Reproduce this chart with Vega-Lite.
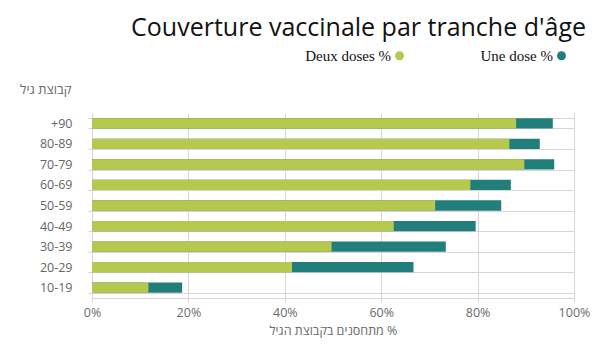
{
  "$schema": "https://vega.github.io/schema/vega-lite/v6.json",
  "width": 482,
  "height": 185,
  "autosize": "none",
  "padding": {"left": 92, "top": 113, "right": 33, "bottom": 62},
  "background": "white",
  "title": {
    "text": "Couverture vaccinale par tranche d'âge",
    "anchor": "end",
    "frame": "group",
    "font": "Open Sans",
    "fontSize": 25,
    "fontWeight": "normal",
    "color": "#111111",
    "dx": 12,
    "offset": 7
  },
  "data": {
    "values": [
      {"age": "+90", "serie": "Une dose %", "valeur": 95.6},
      {"age": "80-89", "serie": "Une dose %", "valeur": 92.9},
      {"age": "70-79", "serie": "Une dose %", "valeur": 95.9},
      {"age": "60-69", "serie": "Une dose %", "valeur": 86.9},
      {"age": "50-59", "serie": "Une dose %", "valeur": 84.9},
      {"age": "40-49", "serie": "Une dose %", "valeur": 79.6},
      {"age": "30-39", "serie": "Une dose %", "valeur": 73.4},
      {"age": "20-29", "serie": "Une dose %", "valeur": 66.7},
      {"age": "10-19", "serie": "Une dose %", "valeur": 18.7},
      {"age": "+90", "serie": "Deux doses %", "valeur": 88.0},
      {"age": "80-89", "serie": "Deux doses %", "valeur": 86.6},
      {"age": "70-79", "serie": "Deux doses %", "valeur": 89.7},
      {"age": "60-69", "serie": "Deux doses %", "valeur": 78.5},
      {"age": "50-59", "serie": "Deux doses %", "valeur": 71.2},
      {"age": "40-49", "serie": "Deux doses %", "valeur": 62.6},
      {"age": "30-39", "serie": "Deux doses %", "valeur": 49.7},
      {"age": "20-29", "serie": "Deux doses %", "valeur": 41.5},
      {"age": "10-19", "serie": "Deux doses %", "valeur": 11.7}
    ]
  },
  "mark": {"type": "bar"},
  "encoding": {
    "y": {
      "field": "age",
      "type": "nominal",
      "sort": ["+90", "80-89", "70-79", "60-69", "50-59", "40-49", "30-39", "20-29", "10-19"],
      "scale": {"paddingInner": 0.5, "paddingOuter": 0.25},
      "axis": {
        "title": "קבוצת גיל",
        "titleAngle": 0,
        "titleAlign": "right",
        "titleBaseline": "alphabetic",
        "titleX": -21,
        "titleY": -20,
        "titleFont": "Open Sans",
        "titleFontSize": 13,
        "titleFontWeight": "normal",
        "titleColor": "#6b6b6b",
        "labelFont": "Open Sans",
        "labelFontSize": 12.5,
        "labelColor": "#666666",
        "labelPadding": 16,
        "tickBand": "extent",
        "tickSize": 4,
        "tickColor": "#d6d6d6",
        "grid": true,
        "gridColor": "#d6d6d6",
        "domain": false
      }
    },
    "x": {
      "field": "valeur",
      "type": "quantitative",
      "stack": null,
      "scale": {"domain": [0, 100]},
      "axis": {
        "title": "מתחסנים בקבוצת הגיל %",
        "values": [0, 20, 40, 60, 80, 100],
        "labelExpr": "datum.value + '%'",
        "labelFlush": false,
        "labelOverlap": false,
        "titleFont": "Open Sans",
        "titleFontSize": 12.5,
        "titleFontWeight": "normal",
        "titleColor": "#6b6b6b",
        "titlePadding": 6,
        "labelFont": "Open Sans",
        "labelFontSize": 12.5,
        "labelColor": "#6b6b6b",
        "labelPadding": 4,
        "tickSize": 4,
        "tickColor": "#d6d6d6",
        "grid": true,
        "gridColor": "#d6d6d6",
        "domainColor": "#d6d6d6"
      }
    },
    "color": {
      "field": "serie",
      "type": "nominal",
      "scale": {"domain": ["Deux doses %", "Une dose %"], "range": ["#b6c94e", "#227e7a"]},
      "legend": {
        "title": null,
        "orient": "none",
        "legendX": 300,
        "legendY": -65,
        "direction": "horizontal",
        "symbolType": "circle",
        "symbolSize": 80,
        "symbolStrokeWidth": 0,
        "labelAlign": "right",
        "labelOffset": -16,
        "labelFont": "Liberation Serif",
        "labelFontSize": 15,
        "labelColor": "#111111",
        "columnPadding": 76
      }
    }
  },
  "config": {"view": {"stroke": null}}
}
